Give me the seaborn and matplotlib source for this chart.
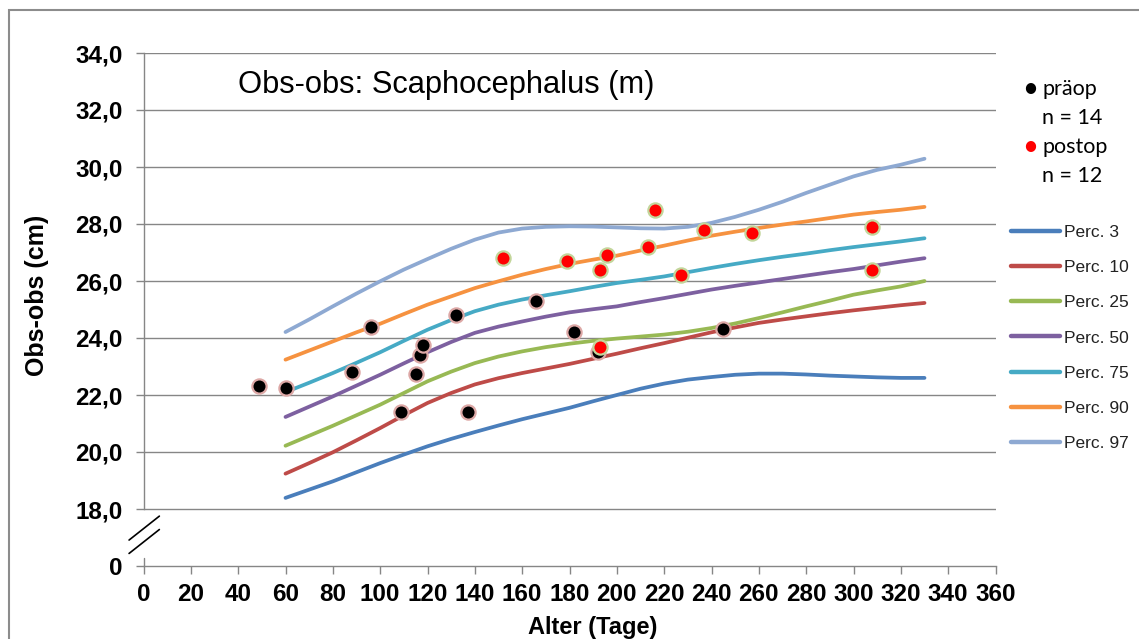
import matplotlib
matplotlib.use("Agg")
import matplotlib.pyplot as plt
from matplotlib.lines import Line2D
from matplotlib.patches import Rectangle
from matplotlib.ticker import FixedLocator
import pandas as pd
import seaborn as sns

# ---- data -------------------------------------------------------------
age = [60, 70, 80, 90, 100, 110, 120, 130, 140, 150, 160, 170, 180, 190,
       200, 210, 220, 230, 240, 250, 260, 270, 280, 290, 300, 310, 320, 330]
p3 = [18.39, 18.68, 18.97, 19.29, 19.61, 19.91, 20.20, 20.46, 20.70, 20.93, 21.15, 21.35, 21.55, 21.78,
      22.00, 22.22, 22.40, 22.54, 22.63, 22.71, 22.75, 22.75, 22.72, 22.68, 22.65, 22.62, 22.60, 22.60]
p10 = [19.24, 19.61, 19.99, 20.41, 20.84, 21.29, 21.72, 22.07, 22.37, 22.59, 22.77, 22.93, 23.09, 23.27,
       23.45, 23.64, 23.82, 24.01, 24.20, 24.37, 24.53, 24.65, 24.76, 24.87, 24.97, 25.06, 25.15, 25.23]
p25 = [20.22, 20.57, 20.92, 21.29, 21.66, 22.07, 22.48, 22.82, 23.12, 23.35, 23.53, 23.68, 23.80, 23.90,
       23.98, 24.05, 24.12, 24.22, 24.35, 24.51, 24.70, 24.90, 25.11, 25.31, 25.52, 25.67, 25.81, 26.00]
p50 = [21.23, 21.59, 21.95, 22.33, 22.71, 23.11, 23.50, 23.86, 24.18, 24.40, 24.58, 24.75, 24.90, 25.01,
       25.11, 25.26, 25.40, 25.55, 25.70, 25.83, 25.95, 26.07, 26.19, 26.31, 26.42, 26.55, 26.68, 26.80]
p75 = [22.10, 22.43, 22.77, 23.13, 23.50, 23.90, 24.29, 24.63, 24.94, 25.17, 25.35, 25.50, 25.64, 25.79,
       25.93, 26.04, 26.16, 26.31, 26.46, 26.60, 26.73, 26.85, 26.96, 27.08, 27.19, 27.29, 27.39, 27.50]
p90 = [23.24, 23.56, 23.88, 24.20, 24.50, 24.84, 25.17, 25.46, 25.75, 25.99, 26.22, 26.42, 26.60, 26.75,
       26.89, 27.07, 27.24, 27.42, 27.59, 27.73, 27.86, 27.98, 28.09, 28.21, 28.33, 28.42, 28.50, 28.60]
p97 = [24.21, 24.65, 25.11, 25.56, 25.99, 26.40, 26.77, 27.13, 27.45, 27.70, 27.84, 27.90, 27.92, 27.91,
       27.88, 27.85, 27.84, 27.90, 28.04, 28.25, 28.50, 28.78, 29.09, 29.38, 29.67, 29.90, 30.08, 30.29]

perc_labels = ["Perc. 3", "Perc. 10", "Perc. 25", "Perc. 50", "Perc. 75", "Perc. 90", "Perc. 97"]
perc_colors = ["#4A7EBB", "#BE4B48", "#98B954", "#7D60A0", "#46AAC5", "#F69240", "#8EA9D2"]

pre_age = [49, 60, 88, 96, 109, 115, 117, 118, 132, 137, 166, 182, 192, 245]
pre_val = [22.3, 22.25, 22.8, 24.4, 21.4, 22.75, 23.4, 23.75, 24.8, 21.4, 25.3, 24.2, 23.5, 24.3]
post_age = [152, 179, 193, 193, 196, 213, 216, 227, 237, 257, 308, 308]
post_val = [26.8, 26.7, 26.4, 23.7, 26.9, 27.2, 28.5, 26.2, 27.8, 27.7, 27.9, 26.4]

x_ticks = list(range(0, 361, 20))
y_ticks = [16, 18, 20, 22, 24, 26, 28, 30, 32, 34]
y_tick_labels = ["0", "18,0", "20,0", "22,0", "24,0", "26,0", "28,0", "30,0", "32,0", "34,0"]

title = "Obs-obs: Scaphocephalus (m)"
x_label = "Alter (Tage)"
y_label = "Obs-obs (cm)"

# ---- tables -----------------------------------------------------------
curves = pd.DataFrame({"age": age, **dict(zip(perc_labels, [p3, p10, p25, p50, p75, p90, p97]))})
curves_long = curves.melt(id_vars="age", var_name="Perzentile", value_name="obs")
pre_df = pd.DataFrame({"age": pre_age, "obs": pre_val})
post_df = pd.DataFrame({"age": post_age, "obs": post_val})

# ---- style ------------------------------------------------------------
sns.set_theme(style="white")
plt.rcParams["font.family"] = ["Liberation Sans", "DejaVu Sans"]
GRID = "#868686"

W, H = 1139, 639
fig = plt.figure(figsize=(W / 100, H / 100), dpi=100, facecolor="white")
ax = fig.add_axes([143.5 / W, 1 - 566 / H, (995.5 - 143.5) / W, (566 - 53) / H])
ax.set_facecolor("white")

# percentile curves
sns.lineplot(data=curves_long, x="age", y="obs", hue="Perzentile",
             palette=dict(zip(perc_labels, perc_colors)), hue_order=perc_labels,
             linewidth=2.7, ax=ax, legend=False, zorder=3,
             solid_capstyle="round", solid_joinstyle="round")

# patient measurements
sns.scatterplot(data=pre_df, x="age", y="obs", color="black", edgecolor="#DDA8A6",
                linewidth=1.6, s=105, ax=ax, zorder=4, legend=False)
sns.scatterplot(data=post_df, x="age", y="obs", color="#FF0000", edgecolor="#C3D69B",
                linewidth=1.6, s=105, ax=ax, zorder=5, legend=False)

ax.set_xlim(0, 360)
ax.set_ylim(16, 34)
ax.set_xlabel("")
ax.set_ylabel("")

ax.xaxis.set_major_locator(FixedLocator(x_ticks))
ax.yaxis.set_major_locator(FixedLocator(y_ticks))
ax.set_yticklabels(y_tick_labels)

for t in ax.get_xticklabels() + ax.get_yticklabels():
    t.set_fontweight("bold")
    t.set_fontsize(17.5)
    t.set_color("black")

ax.tick_params(axis="x", direction="out", length=6, width=1, color=GRID, pad=6, bottom=True)
ax.tick_params(axis="y", direction="out", length=6, width=1, color=GRID, pad=9, left=True)

# horizontal gridlines (the 16 level is the x-axis line itself)
for yv in y_ticks[1:]:
    ax.axhline(yv, color=GRID, linewidth=1.0, zorder=1)

for side in ["top", "right"]:
    ax.spines[side].set_visible(False)
ax.spines["bottom"].set_color(GRID)
ax.spines["bottom"].set_linewidth(1.0)
ax.spines["left"].set_color(GRID)
ax.spines["left"].set_linewidth(1.0)
ax.spines["left"].set_bounds(18, 34)

# short stub of the value axis below the break, and the break marks
ax.plot([0, 0], [16, 16.28], color=GRID, lw=1.0, clip_on=False, zorder=2)
ax.plot([-6.1, 6.7], [16.91, 17.75], color="black", lw=1.2, clip_on=False, zorder=2)
ax.plot([-6.1, 6.7], [16.44, 17.28], color="black", lw=1.2, clip_on=False, zorder=2)

# titles and axis labels
fig.text(238 / W, 1 - 85 / H, title, fontsize=22.2, ha="left", va="center", color="black")
fig.text(37 / W, 1 - 295 / H, y_label, fontsize=18, fontweight="bold", rotation=90,
         ha="center", va="center", color="black")
fig.text(528 / W, 1 - 634 / H, x_label, fontsize=17, fontweight="bold",
         ha="left", va="baseline", color="black")

# group key (pre / post operation)
key_font = ["Lato", "DejaVu Sans"]
key_rows = [("\u2022", "black", "präop", 89), (None, None, "n = 14", 118),
            ("\u2022", "#FF0000", "postop", 147), (None, None, "n = 12", 176)]
for bullet, col, txt, yy in key_rows:
    if bullet:
        fig.text(1030 / W, 1 - yy / H, bullet, fontsize=20, color=col,
                 ha="center", va="center", family=key_font)
    fig.text(1042 / W, 1 - yy / H, txt, fontsize=15.5, color="black",
             ha="left", va="center", family=key_font)

# percentile key
handles = [Line2D([], [], color=c, lw=3.2, solid_capstyle="round") for c in perc_colors]
leg = ax.legend(handles, perc_labels, loc="upper left",
                bbox_to_anchor=(1011 / W, 1 - 225 / H), bbox_transform=fig.transFigure,
                frameon=False, fontsize=12.5, handlelength=2.85, handletextpad=0.2,
                labelspacing=1.15, borderpad=0, borderaxespad=0)
for t in leg.get_texts():
    t.set_color("#222222")

# outer chart frame
fig.patches.append(Rectangle((9 / W, -0.1), 2.0, (1 - 10 / H) + 0.1,
                             transform=fig.transFigure, fill=False,
                             edgecolor="#8C8C8C", linewidth=1.5))

fig.savefig("out.png", dpi=100, facecolor="white")
